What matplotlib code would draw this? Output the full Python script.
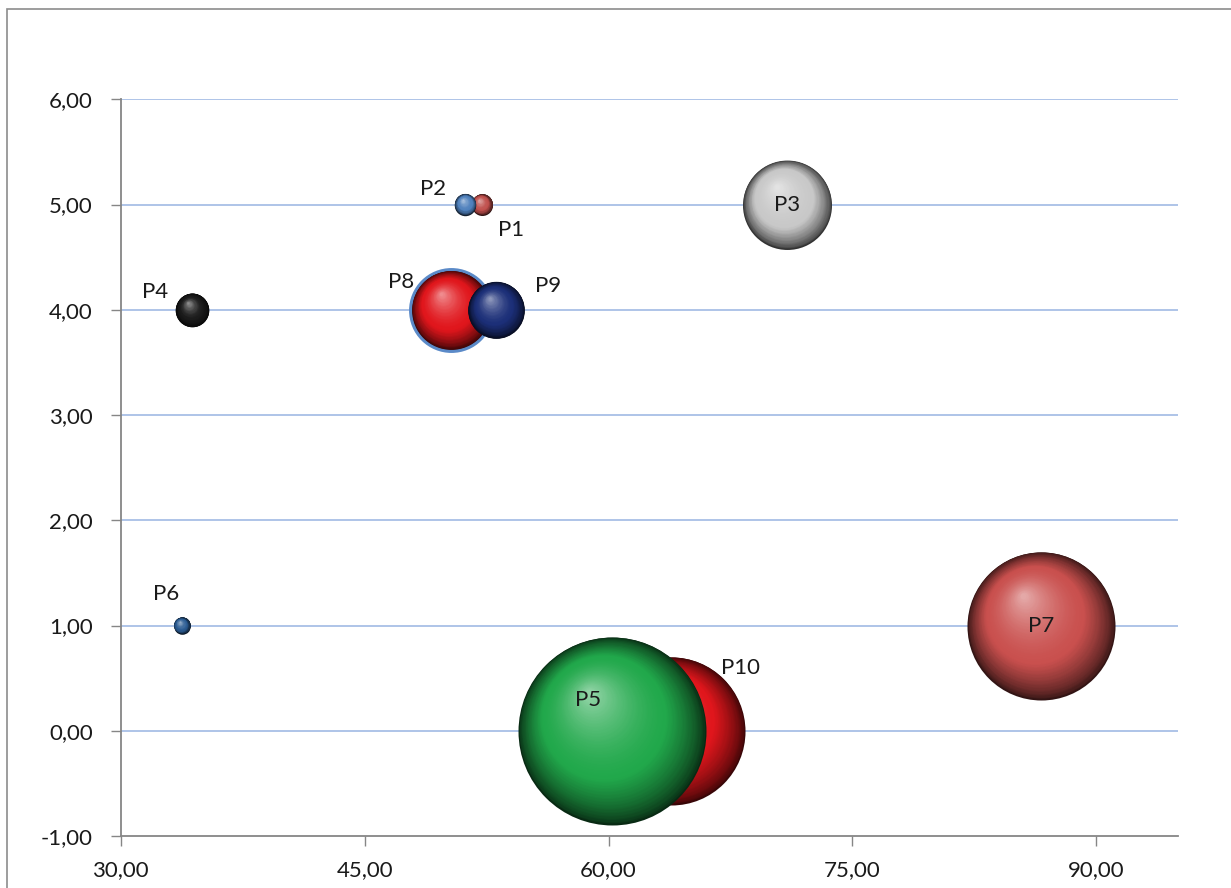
import numpy as np
import matplotlib
matplotlib.use("Agg")
import matplotlib.pyplot as plt
import matplotlib.transforms as mtransforms
from matplotlib.colors import to_rgb
from matplotlib.patches import Rectangle

plt.rcParams['font.family'] = ['Lato', 'DejaVu Sans']

# ---- data ----
names = ["P1", "P2", "P3", "P4", "P5", "P6", "P7", "P8", "P9", "P10"]
x_vals = [52.2, 51.2, 71.0, 34.4, 60.2, 33.75, 86.6, 50.3, 53.1, 63.85]
y_vals = [5.0, 5.0, 5.0, 4.0, 0.0, 1.0, 1.0, 4.0, 4.0, 0.0]
sizes = [1.25, 1.3, 22.4, 3.2, 100.0, 0.78, 62.0, 20.4, 9.1, 62.0]
colors = ["#c0504d", "#4f81bd", "#c8c8c8", "#1c1c1c", "#21a84b", "#2c5d94",
          "#c9504e", "#e0161c", "#1c2f78", "#e0161c"]
draw_order = ["P1", "P2", "P3", "P4", "P10", "P5", "P6", "P7", "P8", "P9"]
# label offsets (points) relative to bubble centre
label_offsets = {"P1": (21, -18), "P2": (-23, 11), "P3": (0, 0), "P4": (-27, 13),
                 "P5": (-17, 22), "P6": (-11, 23), "P7": (0, 0), "P8": (-36, 20),
                 "P9": (37, 17), "P10": (50, 45)}
x_ticks = [30, 45, 60, 75, 90]
y_ticks = [-1, 0, 1, 2, 3, 4, 5, 6]

SIZE_SCALE = 183.2  # points^2 per size unit
FS = 16

W, H, DPI = 1231, 888, 100
fig = plt.figure(figsize=(W / DPI, H / DPI), dpi=DPI)
fig.patch.set_facecolor("white")
fig.patches.append(Rectangle((7 / W, -0.05), 1.1, 1 - 9 / H + 0.05, transform=fig.transFigure,
                             fill=False, edgecolor="#8c8c8c", linewidth=1.2))

ax = fig.add_axes([120.7 / W, 1 - 836 / H, (1177.7 - 120.7) / W, (836 - 99.3) / H])
ax.set_xlim(30, 95)
ax.set_ylim(-1, 6)
ax.set_xticks(x_ticks)
ax.set_yticks(y_ticks)
ax.set_xticklabels([f"{v:.2f}".replace(".", ",") for v in x_ticks])
ax.set_yticklabels([f"{v:.2f}".replace(".", ",") for v in y_ticks])
for sp in ["top", "right"]:
    ax.spines[sp].set_visible(False)
for sp in ["left", "bottom"]:
    ax.spines[sp].set_color("#868686")
    ax.spines[sp].set_linewidth(1.3)
ax.tick_params(axis="both", direction="out", length=7, width=1.0, color="#868686",
               labelsize=FS, labelcolor="#1a1a1a")
ax.tick_params(axis="y", pad=13)
ax.tick_params(axis="x", pad=10)
for yv in y_ticks:
    if yv > -1:
        ax.axhline(yv, color="#a8bfe6", linewidth=1.3, zorder=0)


def mix(a, b, t):
    a = np.array(a); b = np.array(b)
    return tuple(a + (b - a) * t)


def sphere_color(base, t):
    base = np.array(to_rgb(base))
    dark = base * 0.25
    light = mix(base, (1, 1, 1), 0.5)
    if t < 0.35:
        return mix(dark, base, (t / 0.35) ** 0.7)
    return mix(base, light, ((t - 0.35) / 0.65) ** 1.6)


idx = {n: i for i, n in enumerate(names)}
for z, name in enumerate(draw_order):
    i = idx[name]
    s = sizes[i] * SIZE_SCALE
    R = np.sqrt(s) / 2.0
    zbase = 2 + z * 2
    if name == "P8":
        ax.scatter([x_vals[i]], [y_vals[i]], s=s, color="#5b8ac8", zorder=zbase,
                   linewidths=0)
        R = R - 2.2
    N = 80
    hx, hy = -0.24 * R, 0.4 * R
    for k in range(N):
        t = k / (N - 1)
        r = R * (1 - 0.96 * t)
        tr = mtransforms.offset_copy(ax.transData, fig=fig, x=hx * t, y=hy * t, units="points")
        ax.scatter([x_vals[i]], [y_vals[i]], s=(2 * r) ** 2, color=sphere_color(colors[i], t),
                   transform=tr, zorder=zbase + 0.5, linewidths=0)
    dx, dy = label_offsets[name]
    ax.annotate(name, (x_vals[i], y_vals[i]), xytext=(dx, dy), textcoords="offset points",
                ha="center", va="center", fontsize=FS, color="#1a1a1a", zorder=zbase + 1)

fig.savefig("out.png", dpi=DPI)
